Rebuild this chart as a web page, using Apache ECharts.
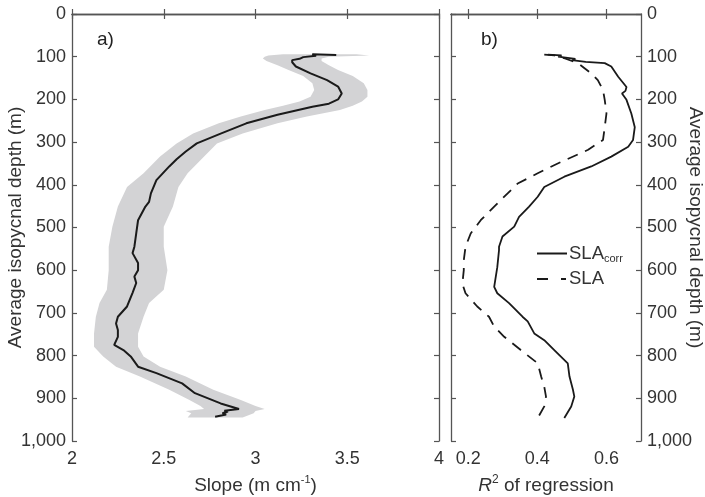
<!DOCTYPE html>
<html>
<head>
<meta charset="utf-8">
<script src="https://cdn.jsdelivr.net/npm/echarts@6/dist/echarts.min.js"></script>
<style>html,body{margin:0;padding:0;background:#fff}#c{width:705px;height:497px}</style>
</head>
<body>
<div id="c"></div>
<script>
// ---- Panel a) mean slope vs average isopycnal depth ----
var slopeDepth = [96, 94, 98, 101, 105, 108, 113, 123, 139, 155, 170, 186, 200, 210, 217, 236, 256, 280, 303, 322, 340, 357, 389, 420, 440, 451, 483, 514, 545, 560, 583, 600, 615, 630, 653, 685, 709, 725, 740, 756, 775, 787, 802, 826, 841, 865, 888, 912, 925, 929, 931, 935, 938, 943];
var slopeMean  = [3.44, 3.31, 3.33, 3.26, 3.24, 3.20, 3.20, 3.22, 3.30, 3.39, 3.45, 3.47, 3.45, 3.40, 3.31, 3.12, 2.95, 2.81, 2.68, 2.62, 2.57, 2.53, 2.46, 2.43, 2.42, 2.40, 2.36, 2.35, 2.34, 2.33, 2.36, 2.36, 2.34, 2.35, 2.33, 2.30, 2.25, 2.24, 2.25, 2.25, 2.23, 2.28, 2.32, 2.36, 2.46, 2.60, 2.67, 2.81, 2.91, 2.83, 2.85, 2.82, 2.84, 2.78];
// uncertainty band (left and right edges)
var bandDepth = [94, 97, 100, 104, 110, 120, 131, 145, 162, 178, 194, 205, 215, 225, 240, 256, 280, 303, 334, 373, 405, 451, 498, 545, 600, 646, 677, 709, 748, 779, 802, 826, 849, 880, 904, 918, 925, 930, 935, 945];
var bandLo    = [3.15, 3.07, 3.05, 3.04, 3.06, 3.12, 3.18, 3.26, 3.31, 3.32, 3.30, 3.24, 3.15, 3.05, 2.92, 2.80, 2.66, 2.57, 2.48, 2.39, 2.30, 2.25, 2.22, 2.20, 2.20, 2.19, 2.15, 2.13, 2.12, 2.12, 2.17, 2.24, 2.37, 2.53, 2.64, 2.70, 2.72, 2.62, 2.65, 2.63];
var bandHi    = [3.55, 3.62, 3.40, 3.36, 3.36, 3.40, 3.45, 3.53, 3.59, 3.61, 3.61, 3.58, 3.53, 3.46, 3.28, 3.12, 2.93, 2.79, 2.72, 2.63, 2.58, 2.55, 2.50, 2.50, 2.52, 2.50, 2.42, 2.39, 2.36, 2.36, 2.39, 2.48, 2.62, 2.77, 2.92, 3.00, 3.05, 3.00, 2.99, 2.93];

// ---- Panel b) R^2 of regression ----
var corrDepth = [95, 97, 100, 105, 108, 112, 115, 123, 147, 171, 180, 186, 201, 233, 265, 295, 311, 334, 357, 381, 405, 428, 451, 475, 498, 521, 545, 553, 593, 639, 654, 677, 709, 720, 748, 764, 787, 818, 849, 880, 896, 919, 946];
var corrR2    = [0.43, 0.47, 0.46, 0.51, 0.50, 0.54, 0.595, 0.614, 0.634, 0.658, 0.655, 0.645, 0.658, 0.672, 0.682, 0.677, 0.663, 0.614, 0.556, 0.478, 0.42, 0.401, 0.376, 0.347, 0.333, 0.299, 0.289, 0.289, 0.284, 0.275, 0.284, 0.318, 0.357, 0.372, 0.391, 0.420, 0.449, 0.488, 0.493, 0.503, 0.507, 0.498, 0.478];
var slaDepth  = [95, 97, 104, 110, 115, 139, 155, 178, 201, 233, 265, 295, 318, 350, 373, 397, 420, 451, 483, 514, 545, 577, 600, 632, 654, 685, 709, 732, 756, 787, 818, 849, 873, 896, 919, 946];
var slaR2     = [0.42, 0.45, 0.48, 0.50, 0.517, 0.556, 0.575, 0.59, 0.595, 0.60, 0.595, 0.59, 0.547, 0.459, 0.401, 0.343, 0.314, 0.275, 0.236, 0.207, 0.192, 0.187, 0.187, 0.183, 0.192, 0.226, 0.26, 0.275, 0.304, 0.352, 0.401, 0.411, 0.42, 0.425, 0.42, 0.401];

var depthTicks = [0, 100, 200, 300, 400, 500, 600, 700, 800, 900, 1000];
var r2Ticks = [0.2, 0.4, 0.6];
var slopeTicks = [2, 2.5, 3, 3.5, 4];

var FONT = 'Liberation Sans';
var TXT = '#333';
var AX = '#555';

function pairs(xs, ys) { return xs.map(function (x, i) { return [x, ys[i]]; }); }
function comma(v) { return String(v).replace(/\B(?=(\d{3})+(?!\d))/g, ','); }

var axLine = { show: true, lineStyle: { color: AX, width: 1.3 } };
var tickIn = { show: true, inside: true, length: 5, lineStyle: { color: AX, width: 1.2 } };
var lbl = { color: TXT, fontFamily: FONT, fontSize: 18 };

function yAx(grid, pos, showLabel, extra) {
  return Object.assign({
    type: 'value', gridIndex: grid, position: pos, inverse: true,
    min: 0, max: 1000, interval: 100,
    axisLine: axLine, axisTick: tickIn, splitLine: { show: false },
    axisLabel: Object.assign({ show: showLabel, margin: 6, formatter: comma }, lbl)
  }, extra || {});
}

var chart = echarts.init(document.getElementById('c'));
chart.setOption({
  animation: false,
  backgroundColor: '#fff',
  grid: [
    { left: 72, top: 14, width: 367, height: 427, containLabel: false, outerBoundsMode: 'none' },
    { left: 451, top: 14, width: 190, height: 427, containLabel: false, outerBoundsMode: 'none' }
  ],
  xAxis: [
    { type: 'value', gridIndex: 0, position: 'bottom', min: 2, max: 4, interval: 0.5,
      axisLine: axLine, axisTick: tickIn, splitLine: { show: false },
      axisLabel: Object.assign({ margin: 9 }, lbl),
      name: '{a|Slope (m cm}{sup|-1}{a|)}', nameLocation: 'middle', nameGap: 33, nameMoveOverlap: false,
      nameTextStyle: { rich: {
        a: { fontFamily: FONT, fontSize: 19, color: TXT, lineHeight: 24 },
        sup: { fontFamily: FONT, fontSize: 11, color: TXT, lineHeight: 13, verticalAlign: 'top' } } } },
    { type: 'value', gridIndex: 0, position: 'top', min: 2, max: 4, interval: 0.5,
      axisLine: axLine, axisTick: tickIn, splitLine: { show: false }, axisLabel: { show: false } },
    { type: 'value', gridIndex: 1, position: 'bottom', min: 0.15, max: 0.7,
      axisLine: axLine, splitLine: { show: false },
      axisTick: Object.assign({ customValues: r2Ticks }, tickIn),
      axisLabel: Object.assign({ margin: 9, customValues: r2Ticks, formatter: function (v) { return v.toFixed(1); } }, lbl),
      name: '{i|R}{sup|2}{a| of regression}', nameLocation: 'middle', nameGap: 33, nameMoveOverlap: false,
      nameTextStyle: { rich: {
        a: { fontFamily: FONT, fontSize: 19, color: TXT, lineHeight: 24 },
        i: { fontFamily: FONT, fontSize: 19, color: TXT, lineHeight: 24, fontStyle: 'italic' },
        sup: { fontFamily: FONT, fontSize: 12, color: TXT, lineHeight: 14, verticalAlign: 'top' } } } },
    { type: 'value', gridIndex: 1, position: 'top', min: 0.15, max: 0.7,
      axisLine: axLine, splitLine: { show: false },
      axisTick: Object.assign({ customValues: r2Ticks }, tickIn), axisLabel: { show: false } }
  ],
  yAxis: [
    yAx(0, 'left', true, { name: 'Average isopycnal depth (m)', nameLocation: 'middle', nameGap: 47, nameRotate: 90,
      nameMoveOverlap: false, nameTextStyle: { color: TXT, fontFamily: FONT, fontSize: 19 } }),
    yAx(0, 'right', false),
    yAx(1, 'left', false),
    yAx(1, 'right', true, { name: 'Average isopycnal depth (m)', nameLocation: 'middle', nameGap: 45, nameRotate: -90,
      nameMoveOverlap: false, nameTextStyle: { color: TXT, fontFamily: FONT, fontSize: 19 } })
  ],
  legend: {
    orient: 'vertical', left: 536, top: 244, padding: 0, itemWidth: 30, itemHeight: 14, itemGap: 5,
    itemStyle: { opacity: 0 },
    data: [
      { name: 'SLAcorr' },
      { name: 'SLA', lineStyle: { type: [11, 13, 5, 1] } }
    ],
    formatter: function (n) { return n === 'SLAcorr' ? '{a|SLA}{sub|corr}' : '{a|SLA}'; },
    textStyle: { padding: [0, 0, 0, -3], rich: {
      a: { fontFamily: FONT, fontSize: 18.5, color: TXT, lineHeight: 22 },
      sub: { fontFamily: FONT, fontSize: 11, color: TXT, lineHeight: 12, verticalAlign: 'bottom' } } }
  },
  graphic: [
    { type: 'text', left: 97, top: 30, style: { text: 'a)', fontFamily: FONT, fontSize: 19, fill: '#222' } },
    { type: 'text', left: 481, top: 30, style: { text: 'b)', fontFamily: FONT, fontSize: 19, fill: '#222' } }
  ],
  series: [
    { type: 'custom', xAxisIndex: 0, yAxisIndex: 0, z: 1, silent: true, clip: true,
      data: bandDepth.map(function (d, i) { return [bandLo[i], d, bandHi[i]]; }),
      encode: { x: [0, 2], y: 1 },
      renderItem: function (params, api) {
        if (params.dataIndex !== 0) return null;
        var pts = [];
        for (var i = 0; i < bandDepth.length; i++) pts.push(api.coord([bandLo[i], bandDepth[i]]));
        for (var j = bandDepth.length - 1; j >= 0; j--) pts.push(api.coord([bandHi[j], bandDepth[j]]));
        return { type: 'polygon', shape: { points: pts }, style: { fill: '#d3d3d5', stroke: null } };
      } },
    { type: 'line', name: 'mean', xAxisIndex: 0, yAxisIndex: 0, z: 3, symbol: 'none',
      data: pairs(slopeMean, slopeDepth), lineStyle: { color: '#1a1a1a', width: 2 } },
    { type: 'line', name: 'SLAcorr', xAxisIndex: 2, yAxisIndex: 2, symbol: 'none',
      data: pairs(corrR2, corrDepth), lineStyle: { color: '#1a1a1a', width: 1.8 }, itemStyle: { color: '#1a1a1a' } },
    { type: 'line', name: 'SLA', xAxisIndex: 2, yAxisIndex: 2, symbol: 'none',
      data: pairs(slaR2, slaDepth), lineStyle: { color: '#1a1a1a', width: 1.8, type: [11, 8] }, itemStyle: { color: '#1a1a1a' } }
  ]
});
</script>
</body>
</html>
